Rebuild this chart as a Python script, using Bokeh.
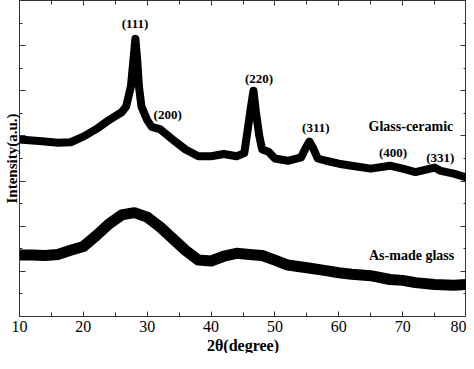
from bokeh.plotting import figure
from bokeh.models import LinearAxis, SingleIntervalTicker, Range1d, CustomJSTickFormatter, Title
from bokeh.core.properties import value
from bokeh.embed import file_html
from bokeh.resources import INLINE

# ---- data ----
two_theta_ceramic = [10, 12, 14, 16, 18, 20, 22, 24, 26, 26.7, 27.45, 27.85, 28.15,
                     28.45, 28.7, 29.1, 30, 30.7, 32, 34, 36, 38, 40, 42, 44, 45.2,
                     45.65, 46.2, 46.64, 47.05, 47.55, 48, 49, 50, 52, 54.1, 54.8,
                     55.4, 56.0, 56.7, 58, 60, 62, 65, 68, 70, 72, 75, 76, 78, 80]
intensity_ceramic = [7.84, 7.8, 7.75, 7.7, 7.72, 7.97, 8.3, 8.7, 9.05, 9.3, 10.2, 11.4, 12.3,
                     11.3, 10.2, 9.3, 8.7, 8.4, 8.3, 7.84, 7.4, 7.1, 7.1, 7.2, 7.1, 7.24,
                     8.1, 9.2, 10.0, 9.0, 8.0, 7.4, 7.3, 7.0, 6.9, 7.05, 7.45,
                     7.75, 7.45, 7.0, 6.9, 6.77, 6.68, 6.55, 6.68, 6.55, 6.4, 6.6, 6.45, 6.33, 6.16]

two_theta_glass = [10, 12, 14, 16, 18, 20, 22, 24, 26, 28, 30, 32, 34, 36, 38, 40, 42,
                   44, 46, 48, 50, 52, 55, 58, 60, 62, 65, 68, 70, 72, 75, 78, 80]
intensity_glass = [2.72, 2.72, 2.7, 2.75, 2.93, 3.1, 3.58, 4.1, 4.5, 4.6, 4.4, 3.97, 3.45,
                   2.93, 2.5, 2.46, 2.67, 2.8, 2.75, 2.7, 2.5, 2.28, 2.16, 2.03, 1.94, 1.87,
                   1.81, 1.64, 1.6, 1.5, 1.42, 1.38, 1.42]

peak_labels = ["(111)", "(200)", "(220)", "(311)", "(400)", "(331)"]
peak_x = [28.1, 33.2, 47.5, 56.4, 68.5, 75.9]
peak_y = [13.0, 8.97, 10.56, 8.36, 7.28, 7.03]

series_labels = ["Glass-ceramic", "As-made glass"]
series_label_x = [71.3, 71.4]
series_label_y = [8.4, 2.72]

x_title = "2θ(degree)"
y_title = "Intensity(a.u.)"

SERIF = "Liberation Serif"

p = figure(width=466, height=353, x_range=Range1d(10, 80), y_range=Range1d(0, 14),
           output_backend="svg", toolbar_location=None, title=None,
           min_border_left=14, min_border_right=0, min_border_top=0, min_border_bottom=0,
           y_axis_label=y_title)
p.outline_line_color = "#333333"
p.xgrid.visible = False
p.ygrid.visible = False

p.line(two_theta_ceramic, intensity_ceramic, line_color="black", line_width=8, line_join="round")
p.line(two_theta_glass, intensity_glass, line_color="black", line_width=11, line_join="round")

p.text(x=peak_x, y=peak_y, text=peak_labels, text_font=value(SERIF),
       text_font_size="13px", text_font_style="bold", text_align="center",
       text_baseline="middle", text_color="black")
p.text(x=series_label_x, y=series_label_y, text=series_labels, text_font=value(SERIF),
       text_font_size="14px", text_font_style="bold", text_align="center",
       text_baseline="middle", text_color="black")

xa = p.xaxis[0]
xa.ticker = SingleIntervalTicker(interval=10, num_minor_ticks=2)
xa.major_label_text_font = SERIF
xa.major_label_text_font_size = "16px"
xa.major_label_standoff = 4
xa.major_tick_in = 5
xa.major_tick_out = 0
xa.minor_tick_in = 4
xa.minor_tick_out = 0

ya = p.yaxis[0]
ya.ticker = SingleIntervalTicker(interval=2, num_minor_ticks=2)
ya.formatter = CustomJSTickFormatter(code="return '';")
ya.axis_label_text_font = SERIF
ya.axis_label_text_font_size = "15px"
ya.axis_label_text_font_style = "bold"
ya.axis_label_standoff = 0
ya.major_label_standoff = 0
ya.major_tick_in = 6
ya.major_tick_out = 0
ya.minor_tick_in = 3
ya.minor_tick_out = 0

for ax in (xa, ya):
    ax.axis_line_color = "#333333"
    ax.major_tick_line_color = "#333333"
    ax.minor_tick_line_color = "#333333"
    ax.major_label_text_color = "black"
    ax.axis_label_text_color = "black"

p.add_layout(Title(text=x_title, align="center", text_font=SERIF, text_font_size="16px",
                   text_font_style="bold", text_color="black", standoff=0, offset=0),
             "below")

top = LinearAxis(ticker=SingleIntervalTicker(interval=10, num_minor_ticks=2),
                 formatter=CustomJSTickFormatter(code="return '';"),
                 major_label_standoff=0,
                 major_tick_in=5, major_tick_out=0, minor_tick_in=4, minor_tick_out=0,
                 axis_line_color="#333333", major_tick_line_color="#333333",
                 minor_tick_line_color="#333333")
right = LinearAxis(ticker=SingleIntervalTicker(interval=2, num_minor_ticks=2),
                   formatter=CustomJSTickFormatter(code="return '';"),
                   major_label_standoff=0,
                   major_tick_in=6, major_tick_out=0, minor_tick_in=3, minor_tick_out=0,
                   axis_line_color="#333333", major_tick_line_color="#333333",
                   minor_tick_line_color="#333333")
p.add_layout(top, "above")
p.add_layout(right, "right")

open("out.html", "w").write(file_html(p, INLINE))
